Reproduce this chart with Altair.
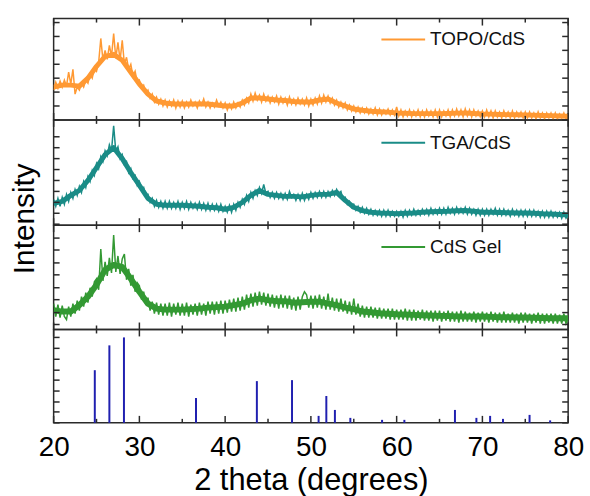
import altair as alt
import pandas as pd

# measurement grid (2 theta, degrees)
two_theta = [20 + 0.25 * i for i in range(241)]
# coarse grid for the body of each noisy band
two_theta_coarse = [20 + i for i in range(61)]

topo_cds = [
    30, 38, 32, 39, 33, 40, 34, 48, 36, 51, 26, 33, 30, 37, 33, 40, 37, 46, 42, 52,
    49, 58, 82, 60, 70, 61, 75, 64, 87, 62, 78, 60, 80, 56, 63, 51, 56, 44, 49, 38,
    40, 32, 35, 27, 30, 22, 26, 18, 23, 16, 21, 14, 20, 13, 19, 14, 20, 12, 19, 13,
    19, 12, 18, 13, 20, 14, 18, 12, 19, 15, 21, 13, 18, 12, 17, 13, 20, 14, 18, 12,
    17, 10, 16, 11, 18, 12, 17, 13, 20, 15, 22, 17, 26, 19, 27, 20, 25, 18, 26, 19,
    24, 17, 23, 18, 24, 16, 23, 17, 22, 15, 23, 16, 21, 15, 22, 16, 21, 15, 22, 14,
    21, 15, 22, 16, 24, 17, 25, 18, 24, 17, 22, 15, 20, 13, 18, 12, 17, 10, 15, 9,
    14, 8, 13, 7, 12, 7, 12, 6, 11, 6, 12, 5, 11, 5, 10, 6, 11, 5, 10, 5,
    13, 4, 10, 3, 9, 4, 10, 3, 9, 4, 10, 3, 9, 3, 10, 4, 9, 3, 10, 3,
    10, 3, 9, 4, 10, 3, 10, 4, 11, 4, 10, 3, 11, 4, 10, 3, 10, 4, 9, 3,
    9, 3, 10, 3, 9, 2, 9, 3, 8, 2, 9, 3, 8, 2, 9, 2, 8, 3, 8, 2,
    8, 2, 8, 2, 7, 1, 8, 2, 7, 1, 7, 2, 7, 1, 7, 1, 6, 2, 7, 1,
    4,
]
topo_core = [
    33, 35, 35, 34, 42, 54, 64, 66, 60, 48, 36, 26, 19, 17, 16, 16, 16, 16, 16, 15,
    14, 14, 17, 22, 22, 21, 20, 19.5, 18.5, 18, 18, 20, 21, 17, 14, 11, 9.7, 8.7, 8.3, 7.8,
    7, 6.7, 6.3, 6.3, 6.3, 6.3, 6.5, 6.8, 7, 6.5, 6, 5.8, 5.5, 5.3, 5.2, 5, 4.8, 4.5, 4.3, 4,
    3.7,
]

tga_cds = [
    26, 19, 27, 19, 28, 21, 31, 24, 33, 27, 36, 30, 39, 33, 44, 38, 49, 44, 55, 50,
    62, 57, 69, 64, 75, 70, 81, 75, 100, 74, 79, 67, 71, 61, 64, 53, 57, 47, 50, 40,
    44, 36, 38, 30, 31, 23, 27, 19, 25, 18, 24, 17, 24, 17, 24, 17, 23, 17, 24, 16,
    23, 17, 24, 16, 23, 17, 22, 16, 23, 16, 22, 15, 22, 15, 21, 15, 21, 14, 21, 14,
    19, 13, 20, 13, 21, 15, 23, 18, 26, 21, 30, 24, 33, 27, 35, 30, 38, 32, 41, 32,
    34, 28, 33, 27, 33, 27, 32, 26, 32, 26, 34, 28, 31, 25, 31, 25, 32, 25, 31, 26,
    33, 27, 33, 28, 34, 28, 34, 28, 34, 29, 35, 30, 36, 32, 34, 26, 28, 21, 24, 18,
    21, 15, 19, 13, 18, 12, 17, 11, 16, 10, 15, 10, 15, 9, 15, 9, 15, 9, 14, 9,
    14, 9, 14, 8, 15, 9, 15, 10, 16, 10, 15, 10, 16, 11, 16, 10, 17, 11, 16, 11,
    17, 11, 17, 11, 18, 12, 17, 11, 18, 12, 17, 12, 18, 11, 17, 11, 16, 10, 16, 10,
    16, 10, 16, 10, 16, 11, 17, 10, 16, 10, 16, 10, 15, 9, 16, 10, 15, 9, 15, 9,
    15, 9, 15, 9, 15, 9, 14, 8, 14, 8, 14, 8, 14, 8, 13, 8, 13, 7, 13, 7,
    10,
]
tga_core = [
    22, 24, 30, 35, 45, 58, 71, 78, 67, 53, 40, 27, 21, 20, 20, 20, 19.5, 19, 18, 17.5,
    16, 18, 23, 30, 35, 31, 30, 29, 29, 28.5, 30, 31, 31, 33, 25, 18, 14.7, 13, 12.3, 12,
    11.5, 12, 12.3, 13, 13.5, 13.7, 14, 14.5, 14.7, 14, 13, 13, 12.8, 12.5, 12.3, 12.3, 12, 11.5, 11.3, 10.8,
    10.3,
]

cds_gel = [
    26, 13, 25, 12, 24, 13, 10, 23, 13, 26, 16, 29, 19, 33, 23, 37, 27, 42, 33, 48,
    51, 40, 81, 49, 68, 54, 72, 57, 95, 58, 74, 56, 71, 76, 50, 61, 44, 55, 38, 47,
    44, 30, 38, 25, 32, 19, 28, 16, 27, 15, 26, 14, 26, 14, 27, 13, 26, 15, 27, 14,
    26, 14, 27, 13, 25, 15, 26, 14, 27, 15, 26, 14, 28, 16, 28, 15, 28, 16, 29, 16,
    29, 17, 30, 18, 31, 18, 32, 19, 33, 20, 35, 22, 36, 23, 37, 24, 38, 25, 37, 24,
    36, 23, 35, 22, 34, 21, 35, 22, 34, 21, 34, 20, 32, 19, 33, 20, 33, 38, 35, 22,
    34, 21, 34, 22, 35, 21, 33, 20, 36, 20, 32, 19, 31, 18, 31, 18, 29, 16, 28, 15,
    31, 15, 26, 13, 24, 12, 23, 12, 23, 12, 22, 11, 22, 11, 21, 11, 21, 10, 21, 10,
    20, 10, 20, 10, 21, 9, 20, 9, 20, 9, 19, 10, 20, 9, 19, 9, 19, 8, 19, 9,
    19, 8, 18, 9, 19, 8, 18, 8, 18, 7, 19, 8, 18, 8, 17, 8, 18, 7, 17, 8,
    18, 8, 17, 7, 18, 8, 17, 7, 17, 7, 18, 7, 16, 7, 17, 7, 16, 6, 17, 7,
    17, 7, 16, 6, 16, 7, 17, 6, 16, 6, 16, 7, 16, 6, 16, 6, 15, 6, 16, 6,
    11,
]
gel_core = [
    19.5, 18, 18, 24.5, 33, 45, 60, 65, 63, 51, 38, 26, 21, 20, 20, 20, 20.5, 21, 22, 22.5,
    23, 24.5, 26, 29.5, 31, 29.5, 28.5, 28.5, 27, 27.5, 28, 28, 26, 24.5, 22, 20.5, 18, 17.3, 16.3, 15.8,
    15.3, 15, 14.7, 14.3, 14, 13.7, 13.5, 13.2, 13, 13, 13, 12.7, 12.3, 12.2, 12, 12, 11.8, 11.5, 11.3, 11.3,
    11.3,
]

# reference stick pattern
stick_pos = [24.8, 26.5, 28.2, 36.6, 43.7, 47.8, 50.9, 51.8, 52.8, 54.6,
             58.3, 60.9, 66.8, 69.3, 70.9, 72.4, 75.5, 77.9]
stick_int = [53, 78, 86, 25, 42, 43, 7, 27, 13, 5,
             3, 3, 13, 5, 7, 4, 8, 2.5]

major_x = [20, 30, 40, 50, 60, 70, 80]
minor_x = [25, 35, 45, 55, 65, 75]

yticks_topo = [0, 14, 28, 42, 56, 70, 84, 98]
yticks_tga = [1, 12, 23, 34, 45, 56, 67, 78, 89]
yticks_gel = [5, 17, 30, 42, 55, 67, 80, 92]
yticks_ref = [0, 11, 21, 32, 43, 53, 64, 75, 86]

labels = ["TOPO/CdS", "TGA/CdS", "CdS Gel"]
colors = ["#FF9933", "#1A8C87", "#339933"]
stick_color = "#2020B0"

W = 518
FONT = "Liberation Sans"
TICK = "#2a2a2a"


def build(H, yticks, layers_extra, xaxis=None, yaxis=None):
    xs = alt.Scale(domain=[20, 80], nice=False, zero=False)
    ys = alt.Scale(domain=[0, H], nice=False, zero=False)

    def X(f):
        return alt.X(f, type="quantitative", scale=xs, axis=xaxis)

    def Y(f):
        return alt.Y(f, type="quantitative", scale=ys, axis=yaxis)

    maj = pd.DataFrame({"t": major_x})
    mnr = pd.DataFrame({"t": minor_x})
    yt = pd.DataFrame({"v": yticks})
    tick = dict(color=TICK, strokeWidth=1.5)
    layers = [l(X, Y) for l in layers_extra]
    layers += [
        alt.Chart(maj).mark_rule(**tick).encode(x=X("t"), y=alt.value(0), y2=alt.value(7)),
        alt.Chart(maj).mark_rule(**tick).encode(x=X("t"), y=alt.value(H), y2=alt.value(H - 7)),
        alt.Chart(mnr).mark_rule(**tick).encode(x=X("t"), y=alt.value(0), y2=alt.value(4)),
        alt.Chart(mnr).mark_rule(**tick).encode(x=X("t"), y=alt.value(H), y2=alt.value(H - 4)),
        alt.Chart(yt).mark_rule(**tick).encode(y=Y("v"), x=alt.value(0), x2=alt.value(6)),
        alt.Chart(yt).mark_rule(**tick).encode(y=Y("v"), x=alt.value(W), x2=alt.value(W - 6)),
    ]
    return alt.layer(*layers).properties(width=W, height=H)


def trace_layers(values, core, core_w, color, label, ly):
    df = pd.DataFrame({"tt": two_theta, "I": values})
    dc = pd.DataFrame({"tc": two_theta_coarse, "C": core})
    leg = pd.DataFrame({"name": [label]})

    def body(X, Y):
        return alt.Chart(dc).mark_line(color=color, strokeWidth=core_w, clip=True,
                                       strokeJoin="round").encode(x=X("tc"), y=Y("C"))

    def line(X, Y):
        return alt.Chart(df).mark_line(color=color, strokeWidth=1.5, clip=True).encode(
            x=X("tt"), y=Y("I"))

    def leg_line(X, Y):
        return alt.Chart(leg).mark_rule(color=color, strokeWidth=2).encode(
            x=alt.value(330), x2=alt.value(374), y=alt.value(ly))

    def leg_text(X, Y):
        return alt.Chart(leg).mark_text(align="left", baseline="middle", font=FONT,
                                        fontSize=19, color="#111111").encode(
            x=alt.value(379), y=alt.value(ly), text="name:N")

    return [body, line, leg_line, leg_text]


y_title_axis = alt.Axis(title="Intensity", labels=False, ticks=False, domain=False,
                        grid=False, titleFont=FONT, titleFontSize=30,
                        titleFontWeight="normal", titleColor="#000000",
                        titleX=-20, titleY=99, titleAngle=270, titleAlign="center",
                        titleBaseline="alphabetic")

x_axis = alt.Axis(values=major_x, format="d", ticks=False, tickSize=0, domain=False,
                  grid=False, labelFont=FONT, labelFontSize=28, labelColor="#000000",
                  labelPadding=11, labelFlush=False, title="2 theta (degrees)",
                  titleFont=FONT, titleFontSize=31, titleFontWeight="normal",
                  titleColor="#000000", titlePadding=4)

p1 = build(102, yticks_topo, trace_layers(topo_cds, topo_core, 5, colors[0], labels[0], 21))
p2 = build(106, yticks_tga, trace_layers(tga_cds, tga_core, 5, colors[1], labels[1], 23),
           yaxis=y_title_axis)
p3 = build(105, yticks_gel, trace_layers(cds_gel, gel_core, 6, colors[2], labels[2], 22))

sdf = pd.DataFrame({"pos": stick_pos, "h": stick_int})


def sticks(X, Y):
    return alt.Chart(sdf).mark_rule(color=stick_color, strokeWidth=2).encode(
        x=X("pos"), y=Y("h"), y2=alt.datum(0))


p4 = build(94, yticks_ref, [sticks], xaxis=x_axis)

chart = alt.vconcat(p1, p2, p3, p4, spacing=0, bounds="flush").configure_view(
    stroke="#2a2a2a", strokeWidth=1.5
).properties(padding={"left": 9, "top": 15, "right": 5, "bottom": 5})

chart.save("out.html", embed_options={"renderer": "svg", "actions": False})
